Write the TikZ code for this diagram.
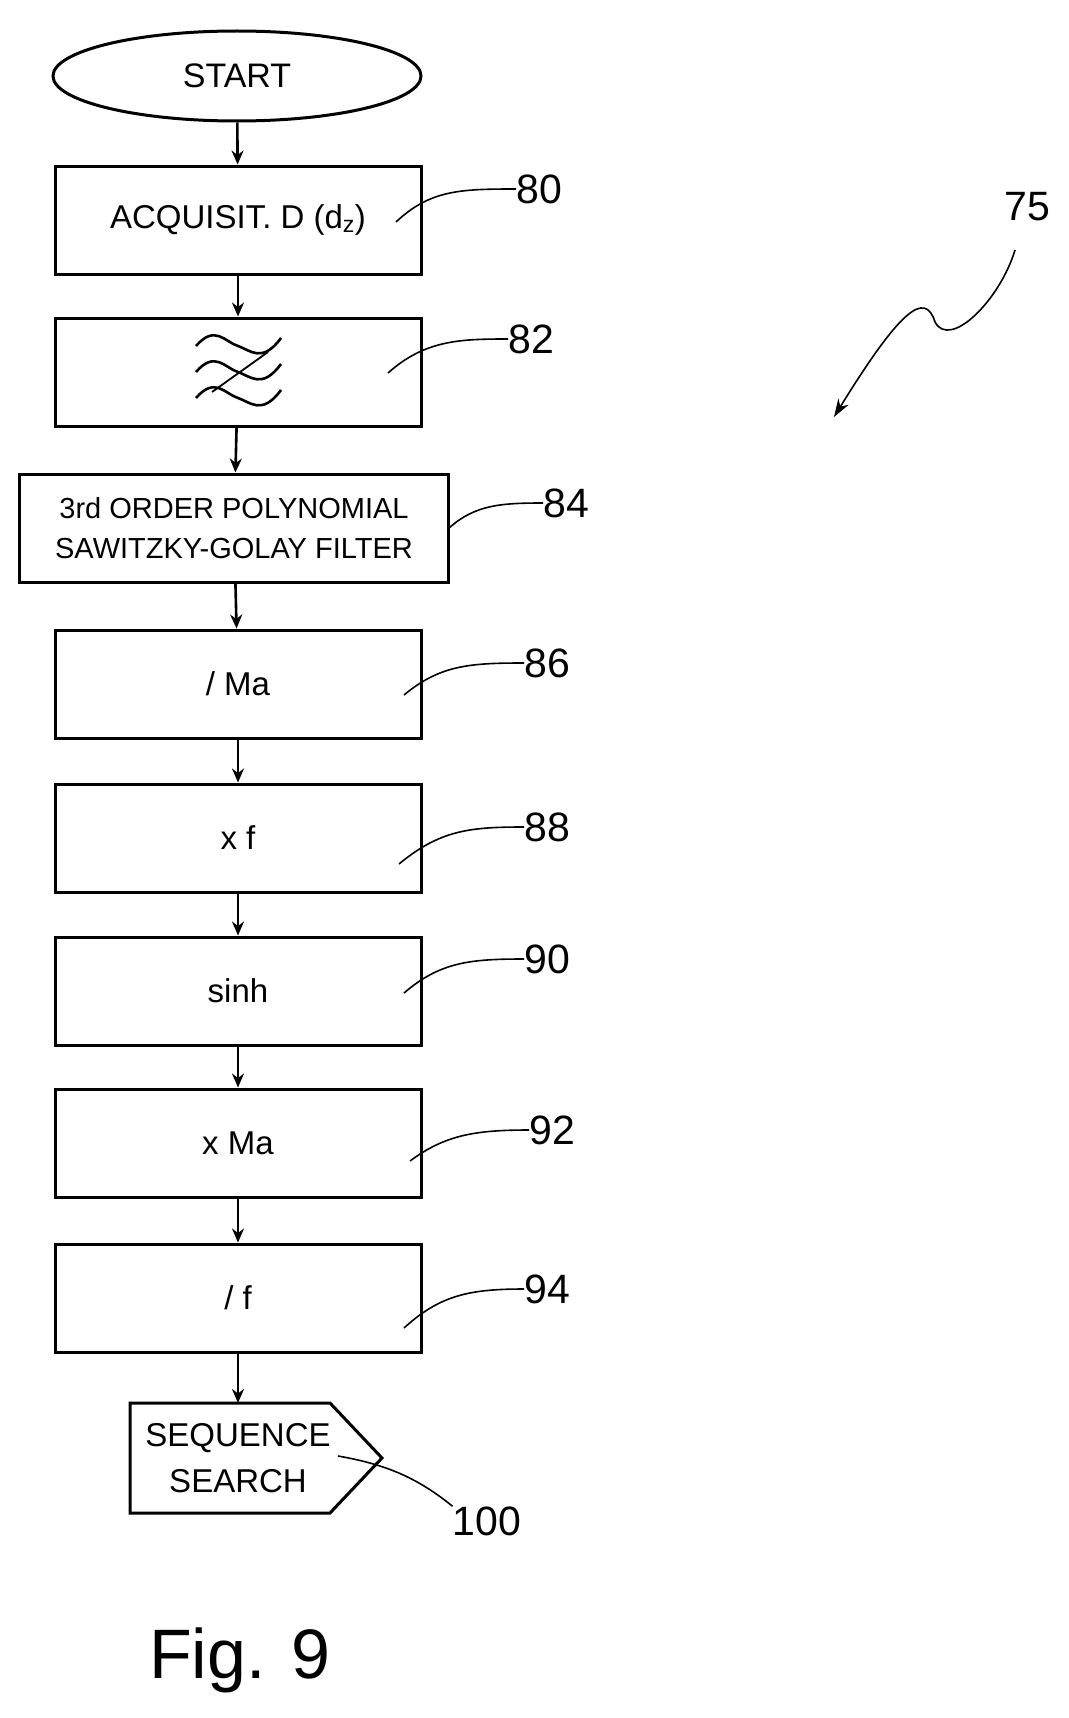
\documentclass[tikz,border=0pt]{standalone}
\usepackage{fontspec}
\setmainfont{Liberation Sans}
\usetikzlibrary{arrows.meta,shapes.geometric}
\begin{document}
\begin{tikzpicture}[x=1pt,y=-1pt,
  box/.style={draw,line width=3pt,minimum width=366pt,minimum height=108pt,font=\fontsize{33}{36}\selectfont,inner sep=0pt},
  arr/.style={line width=2.6pt,-{Stealth[length=14pt,width=12pt]}},
  lead/.style={line width=1.6pt},
  num/.style={font=\fontsize{41}{44}\selectfont,inner sep=0pt}]
\useasboundingbox (0,0) rectangle (1068,1718);
\node[draw,line width=3pt,ellipse,minimum width=368pt,minimum height=90pt,font=\fontsize{34}{36}\selectfont,inner sep=0pt] (s) at (237,76) {START};
\node[box] (b80) at (238,220) {ACQUISIT. D (d\textsubscript{z})};
\node[box] (b82) at (238,372) {};
\node[box,minimum width=429pt,align=center,font=\fontsize{29}{40}\selectfont] (b84) at (234,528) {3rd ORDER POLYNOMIAL\\SAWITZKY-GOLAY FILTER};
\node[box] (b86) at (238,684) {/ Ma};
\node[box] (b88) at (238,838) {x f};
\node[box] (b90) at (238,991) {sinh};
\node[box] (b92) at (238,1143) {x Ma};
\node[box] (b94) at (238,1298) {/ f};
\draw[line width=3pt] (130,1403) -- (330,1403) -- (382,1458) -- (330,1513) -- (130,1513) -- cycle;
\node[font=\fontsize{33}{46}\selectfont,align=center,inner sep=0pt] (b100) at (238,1458) {SEQUENCE\\SEARCH};
\coordinate (bs) at (238,1403);
\draw[arr] (s) -- (b80);
\draw[arr] (b80) -- (b82);
\draw[arr] (b82) -- (b84);
\draw[arr] (b84) -- (b86);
\draw[arr] (b86) -- (b88);
\draw[arr] (b88) -- (b90);
\draw[arr] (b90) -- (b92);
\draw[arr] (b92) -- (b94);
\draw[arr] (b94) -- (bs);
% filter symbol
\foreach \yy in {346,372,398}{
  \draw[line width=2.6pt] (196,\yy) .. controls (215,\yy-22) and (225,\yy-4) .. (238,\yy) .. controls (250,\yy+4) and (262,\yy+18) .. (281,\yy-8);}
\draw[line width=1.8pt] (212,392) -- (268,352);
% labels
\node[num] (n80) at (539,189) {80};
\node[num] (n82) at (531,339) {82};
\node[num] (n84) at (566,503) {84};
\node[num] (n86) at (547,663) {86};
\node[num] (n88) at (547,827) {88};
\node[num] (n90) at (547,959) {90};
\node[num] (n92) at (552,1130) {92};
\node[num] (n94) at (547,1289) {94};
\node[num] (n100) at (487,1521) {100};
\node[num] (n75) at (1027,207) {75};
\draw[lead] (396,222) .. controls (430,190) and (460,189) .. (n80.west);
\draw[lead] (388,373) .. controls (425,340) and (460,339) .. (n82.west);
\draw[lead] (449,528) .. controls (475,505) and (500,503) .. (n84.west);
\draw[lead] (404,695) .. controls (440,665) and (470,663) .. (n86.west);
\draw[lead] (399,864) .. controls (440,830) and (470,827) .. (n88.west);
\draw[lead] (404,993) .. controls (440,962) and (470,959) .. (n90.west);
\draw[lead] (410,1161) .. controls (445,1135) and (475,1130) .. (n92.west);
\draw[lead] (404,1328) .. controls (440,1295) and (470,1289) .. (n94.west);
\draw[lead] (338,1456) .. controls (390,1465) and (420,1480) .. (n100.north west);
\draw[lead,-{Stealth[length=18pt,width=12pt]}] (1015,250) .. controls (1000,300) and (950,350) .. (935,322) .. controls (925,290) and (900,310) .. (834,417);
\node[font=\fontsize{70}{80}\selectfont,inner sep=0pt] (fig) at (240,1660) {Fig. 9};
\end{tikzpicture}
\end{document}
